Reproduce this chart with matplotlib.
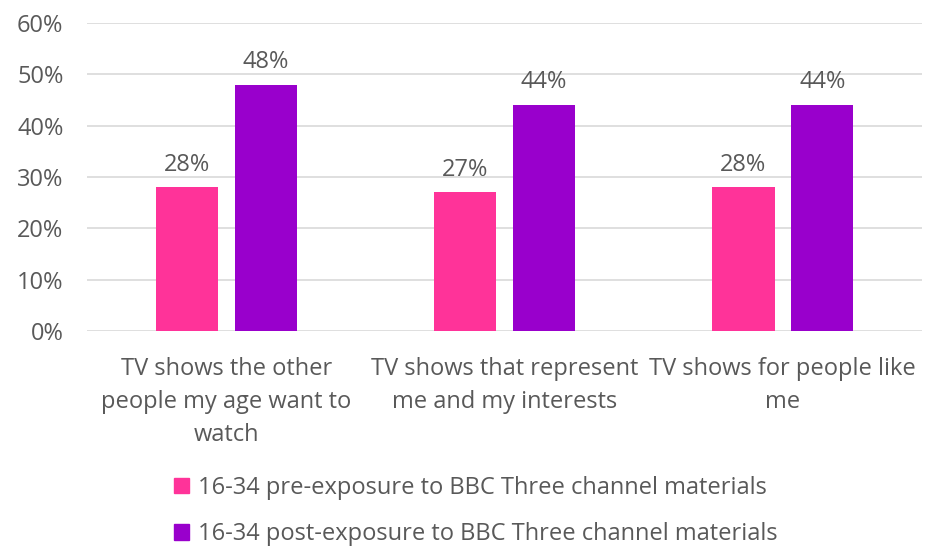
import matplotlib
matplotlib.use("Agg")
import matplotlib.pyplot as plt
import numpy as np
from matplotlib.patches import Patch

categories = [
    "TV shows the other\npeople my age want to\nwatch",
    "TV shows that represent\nme and my interests",
    "TV shows for people like\nme",
]
pre_exposure = [28, 27, 28]
post_exposure = [48, 44, 44]
series_names = [
    "16-34 pre-exposure to BBC Three channel materials",
    "16-34 post-exposure to BBC Three channel materials",
]
y_ticks = [0, 10, 20, 30, 40, 50, 60]

PINK = "#FF3399"
PURPLE = "#9900CC"
TEXT = "#595959"
FS = 17

plt.rcParams["font.family"] = ["Open Sans", "DejaVu Sans"]

fig = plt.figure(figsize=(9.26, 5.49), dpi=100)
ax = fig.add_axes([0.094, 0.397, 0.9017, 0.561])

x = np.arange(len(categories))
w = 0.223
gap = 0.06
off = (w + gap) / 2

b1 = ax.bar(x - off, pre_exposure, w, color=PINK, zorder=3)
b2 = ax.bar(x + off, post_exposure, w, color=PURPLE, zorder=3)

for bars, vals in ((b1, pre_exposure), (b2, post_exposure)):
    for rect, v in zip(bars, vals):
        ax.text(rect.get_x() + rect.get_width() / 2, v + 2.1, f"{v}%",
                ha="center", va="bottom", fontsize=FS, color=TEXT)

ax.set_xlim(-0.5, len(categories) - 0.5)
ax.set_ylim(0, 60)
ax.set_yticks(y_ticks)
ax.set_yticklabels([f"{t}%" for t in y_ticks])
ax.yaxis.grid(True, color="#D9D9D9", linewidth=1.2, zorder=0)
ax.set_axisbelow(True)
for s in ax.spines.values():
    s.set_visible(False)
ax.tick_params(axis="both", length=0, labelsize=FS, colors=TEXT)
ax.tick_params(axis="y", pad=17)
ax.tick_params(axis="x", pad=18.5)
ax.set_xticks(x)
ax.set_xticklabels(categories, linespacing=1.5)

handles = [Patch(color=PINK), Patch(color=PURPLE)]
fig.legend(handles, series_names, loc="upper left",
           bbox_to_anchor=(0.165, 0.172), frameon=False, ncol=1,
           fontsize=FS, labelcolor=TEXT, handlelength=0.65, handleheight=0.65,
           handletextpad=0.35, labelspacing=0.95)

fig.savefig("out.png", dpi=100)
